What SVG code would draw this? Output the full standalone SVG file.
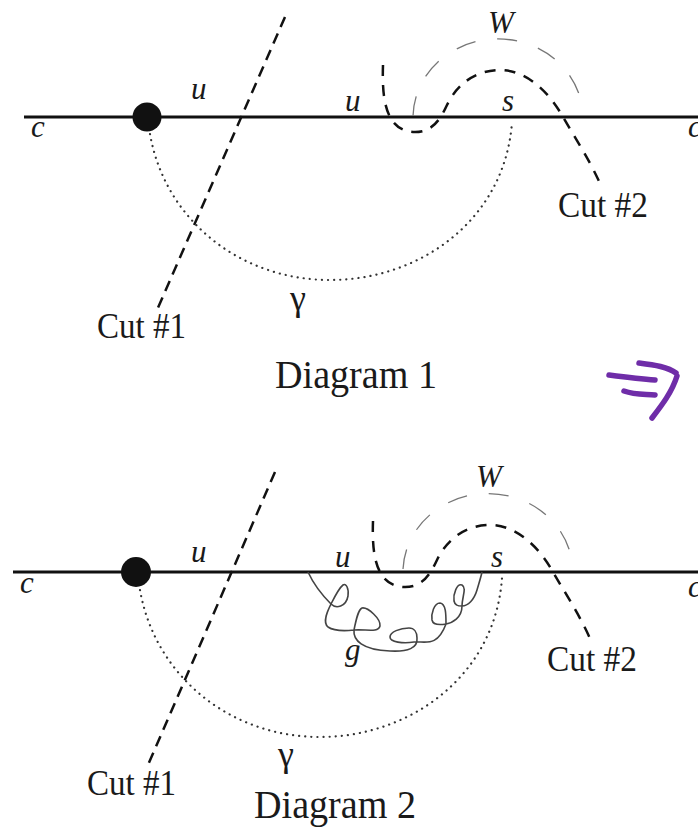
<svg xmlns="http://www.w3.org/2000/svg" width="698" height="829" viewBox="0 0 698 829">
<style>
.axis{stroke:#111;stroke-width:3;fill:none}
.cut{stroke:#111;stroke-width:2.5;fill:none;stroke-dasharray:11 7}
.wpath{stroke:#111;stroke-width:2.5;fill:none;stroke-dasharray:11 9}
.warc{stroke:#777;stroke-width:1.3;fill:none;stroke-dasharray:20 22}
.gamma{stroke:#333;stroke-width:2.2;fill:none;stroke-dasharray:0.1 6;stroke-linecap:round}
.knot{stroke:#444;stroke-width:1.6;fill:none;stroke-linejoin:round}
.lbl{font-family:"Liberation Serif",serif;fill:#1a1a1a}
.it{font-style:italic;font-size:31px}
.cap{font-size:35px}
.ttl{font-size:39px}
.mark{stroke:#6f2da8;stroke-width:5.5;fill:none;stroke-linecap:round;stroke-linejoin:round}
</style>

<g id="diagram1">
  <g id="d1-axis"><line class="axis" x1="24" y1="117" x2="698" y2="117"/></g>
  <g id="d1-dot"><circle cx="147" cy="117" r="14.5" fill="#111"/></g>
  <g id="d1-connectors">
    <line class="cut" x1="285" y1="17" x2="157" y2="310"/>
    <path class="gamma" d="M150,134 C165,220 240,280 330,280 C420,280 505,220 512,122"/>
    <path class="warc" d="M413,116 A85,79 0 0 1 582,106"/>
    <path class="wpath" d="M383,65 C382,95 384,130 413,132 C432,133 440,120 447,105 C458,82 478,70 500,70 C525,70 548,90 563,117 C575,138 590,160 602,188"/>
  </g>
  <g id="d1-labels">
    <text class="lbl it" x="31" y="137">c</text>
    <text class="lbl it" x="191" y="99">u</text>
    <text class="lbl it" x="345" y="111">u</text>
    <text class="lbl it" x="502" y="111">s</text>
    <text class="lbl it" x="488" y="33">W</text>
    <text class="lbl it" x="688" y="137">c</text>
    <text class="lbl" x="290" y="310" font-size="36">γ</text>
    <text class="lbl cap" x="97" y="338" textLength="89" lengthAdjust="spacingAndGlyphs">Cut #1</text>
    <text class="lbl cap" x="558" y="217" textLength="90" lengthAdjust="spacingAndGlyphs">Cut #2</text>
    <text class="lbl ttl" x="275" y="388" textLength="162" lengthAdjust="spacingAndGlyphs">Diagram 1</text>
  </g>
</g>

<g id="mark">
  <path class="mark" d="M639,363 C655,365 668,367 676,373"/>
  <path class="mark" d="M677,376 C672,392 662,405 652,418"/>
  <path class="mark" d="M609,375 C625,377 642,379 655,380"/>
  <path class="mark" d="M624,391 C635,395 645,394 655,395"/>
</g>

<g id="diagram2">
  <g id="d2-axis"><line class="axis" x1="13" y1="572" x2="698" y2="572"/></g>
  <g id="d2-dot"><circle cx="136" cy="572" r="15" fill="#111"/></g>
  <g id="d2-connectors">
    <line class="cut" x1="275" y1="472" x2="148" y2="765"/>
    <path class="gamma" d="M140,590 C155,676 230,737 320,737 C410,737 495,676 502,578"/>
    <path class="warc" d="M403,569 A85,79 0 0 1 572,561"/>
    <path class="wpath" d="M373,521 C372,550 374,585 403,587 C422,588 430,575 437,560 C448,537 468,525 490,525 C515,525 538,545 553,572 C565,593 580,615 592,643"/>
    <path class="knot" d="M308,572 C314,585 323,596 331,604 C336,609 346,607 348,596 C349,588 346,583 343,585 C339,588 334,598 331,604 C328,610 322,622 328,627 C334,631 345,631 354,630 C366,629 378,633 380,626 C381,619 368,607 362,608 C358,610 356,620 354,630 C353,640 362,650 390,651 C408,652 418,648 417,638 C417,632 414,628 409,628 C400,628 390,632 390,637 C390,642 403,644 414,642 C425,641 437,648 446,624 C446,614 446,604 440,603 C434,603 431,614 432,620 C433,625 440,625 446,624 C452,623 462,618 462,606 C462,597 467,588 462,585 C457,583 453,594 454,601 C455,606 459,606 462,606 C468,606 474,600 477,590 C479,583 481,577 482,572"/>
  </g>
  <g id="d2-labels">
    <text class="lbl it" x="20" y="593">c</text>
    <text class="lbl it" x="191" y="562">u</text>
    <text class="lbl it" x="335" y="567">u</text>
    <text class="lbl it" x="491" y="567">s</text>
    <text class="lbl it" x="476" y="487">W</text>
    <text class="lbl it" x="688" y="597">c</text>
    <text class="lbl it" x="345" y="660" font-size="32">g</text>
    <text class="lbl" x="278" y="766" font-size="36">γ</text>
    <text class="lbl cap" x="87" y="795" textLength="89" lengthAdjust="spacingAndGlyphs">Cut #1</text>
    <text class="lbl cap" x="547" y="671" textLength="90" lengthAdjust="spacingAndGlyphs">Cut #2</text>
    <text class="lbl ttl" x="254" y="818" textLength="162" lengthAdjust="spacingAndGlyphs">Diagram 2</text>
  </g>
</g>
</svg>
